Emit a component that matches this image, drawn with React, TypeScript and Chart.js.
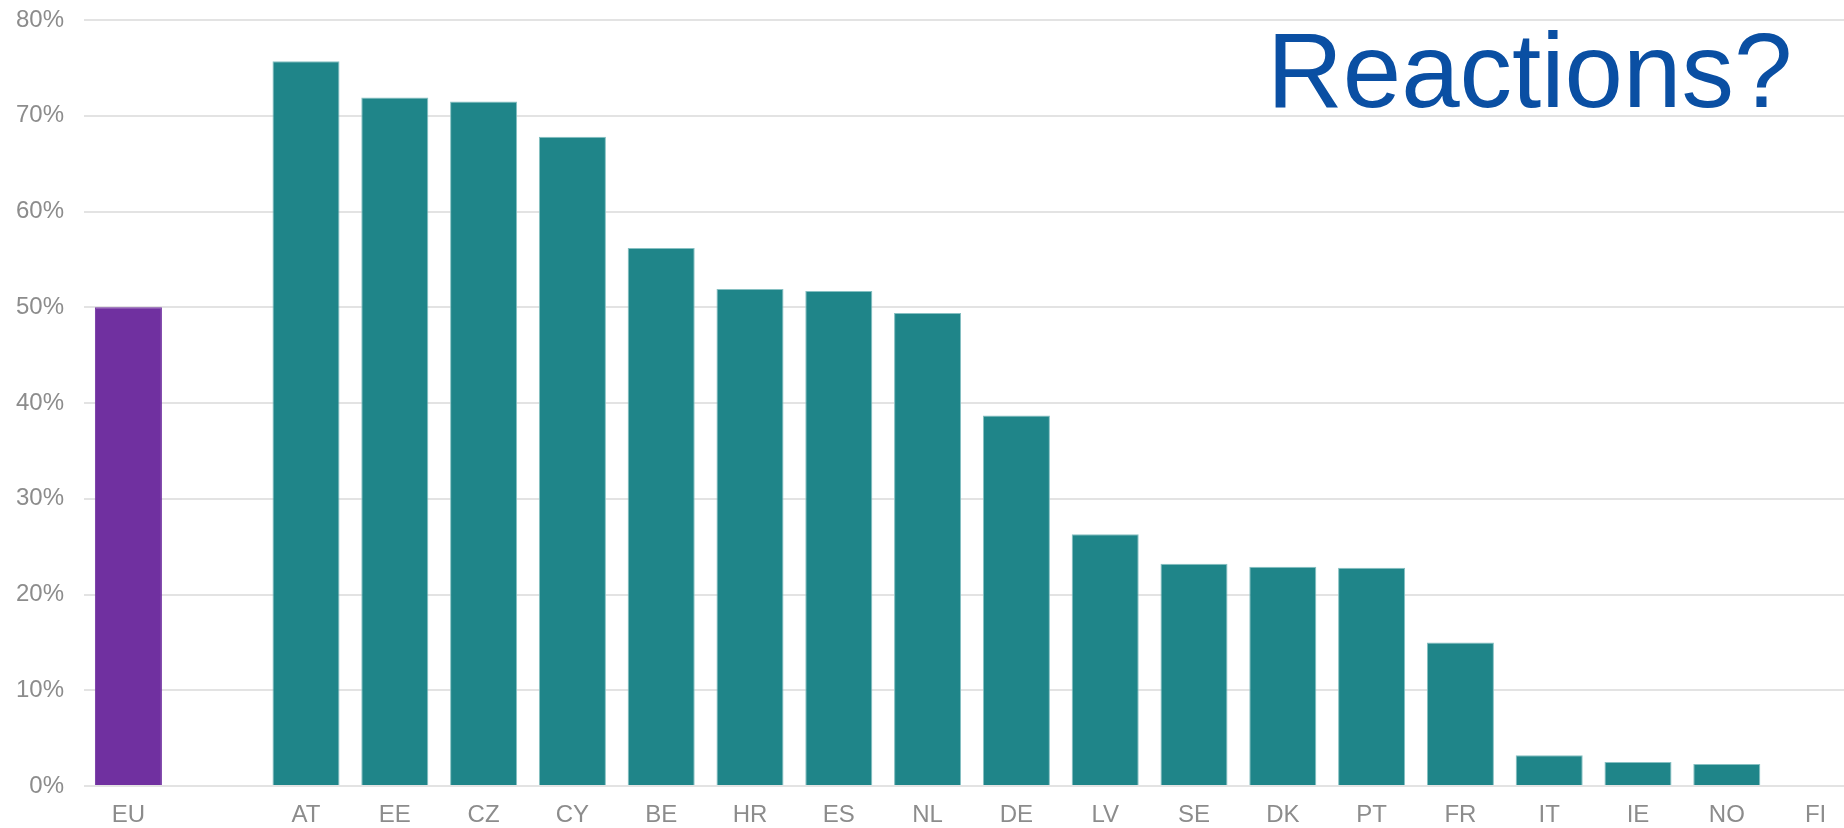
import React, { useEffect, useRef } from "react";
import { Chart, registerables } from "chart.js";

Chart.register(...registerables);

const categories: string[] = ["EU", "", "AT", "EE", "CZ", "CY", "BE", "HR", "ES", "NL", "DE", "LV", "SE", "DK", "PT", "FR", "IT", "IE", "NO", "FI"];
const values: (number | null)[] = [50.0, null, 75.7, 71.9, 71.5, 67.8, 56.2, 51.9, 51.7, 49.4, 38.7, 26.3, 23.2, 22.9, 22.8, 15.0, 3.2, 2.5, 2.3, 0];
const yTicks: number[] = [0, 10, 20, 30, 40, 50, 60, 70, 80];
const titleText = "Reactions?";

const EU_COLOR = "#7030a0";
const TEAL = "#1f8589";
const TEAL_EDGE = "#86c0c2";
const LABEL_COLOR = "#8c8c8c";
const FONT = '"Liberation Sans", Arial, sans-serif';

const titlePlugin = {
  id: "cornerTitle",
  afterDraw(chart: any) {
    const ctx = chart.ctx;
    ctx.save();
    ctx.font = `105px ${FONT}`;
    ctx.fillStyle = "#0a4fa3";
    ctx.textAlign = "left";
    ctx.textBaseline = "alphabetic";
    ctx.fillText(titleText, 1267, 107);
    ctx.restore();
  },
};

export default function App() {
  const ref = useRef<HTMLCanvasElement | null>(null);

  useEffect(() => {
    if (!ref.current) return;
    const chart = new Chart(ref.current, {
      type: "bar",
      data: {
        labels: categories,
        datasets: [
          {
            data: values as any,
            backgroundColor: categories.map((c) => (c === "EU" ? EU_COLOR : TEAL)),
            borderColor: categories.map((c) => (c === "EU" ? EU_COLOR : TEAL_EDGE)),
            borderWidth: (ctx: any) => (ctx.raw ? 1 : 0),
            borderSkipped: "start",
            barPercentage: 0.755,
            categoryPercentage: 1,
          },
        ],
      },
      options: {
        responsive: false,
        animation: false,
        devicePixelRatio: 1,
        layout: { padding: { top: 20, right: 20, left: 0, bottom: 0 } },
        plugins: {
          legend: { display: false },
          tooltip: { enabled: false },
          title: { display: false },
        },
        scales: {
          x: {
            offset: true,
            grid: { display: false, drawTicks: false },
            border: { display: false },
            ticks: {
              color: LABEL_COLOR,
              font: { family: FONT, size: 24 },
              padding: 15,
              maxRotation: 0,
              autoSkip: false,
            },
            afterFit: (scale: any) => {
              scale.height = 42;
            },
          },
          y: {
            min: 0,
            max: 80,
            afterBuildTicks: (scale: any) => {
              scale.ticks = yTicks.map((v) => ({ value: v }));
            },
            grid: { color: "#e3e3e3", lineWidth: 2, drawTicks: true, tickLength: 20, tickColor: "rgba(0,0,0,0)" },
            border: { display: false },
            ticks: {
              color: LABEL_COLOR,
              font: { family: FONT, size: 24 },
              padding: 0,
              callback: (v: any) => `${v}%`,
            },
            afterFit: (scale: any) => {
              scale.width = 84;
            },
          },
        },
      },
      plugins: [titlePlugin],
    });
    return () => chart.destroy();
  }, []);

  return (
    <div
      style={{
        position: "fixed",
        left: 0,
        top: 0,
        width: 1844,
        height: 828,
        overflow: "hidden",
        background: "#ffffff",
      }}
    >
      <canvas ref={ref} width={1880} height={828} style={{ width: 1880, height: 828, display: "block" }} />
    </div>
  );
}
